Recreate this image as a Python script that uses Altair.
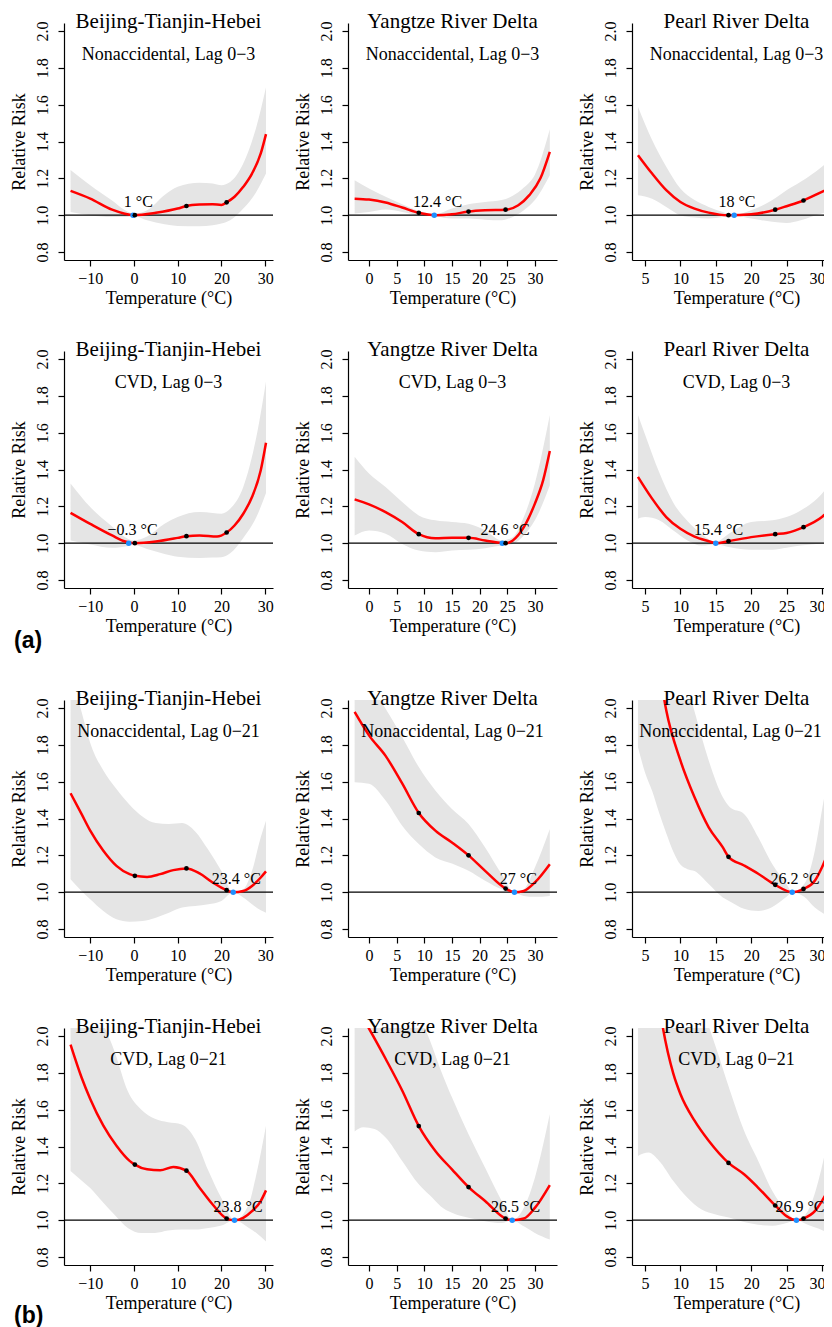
import altair as alt
import pandas as pd

# ---------------- data ----------------
REGIONS = ["Beijing-Tianjin-Hebei", "Yangtze River Delta", "Pearl River Delta"]
OUTCOMES = ["Nonaccidental, Lag 0\u22123", "CVD, Lag 0\u22123",
            "Nonaccidental, Lag 0\u221221", "CVD, Lag 0\u221221"]
PANEL_TAGS = ["", "(a)", "", "(b)"]
X_TICKS = [[-10, 0, 10, 20, 30], [0, 5, 10, 15, 20, 25, 30], [5, 10, 15, 20, 25, 30]]
Y_TICKS = [0.8, 1.0, 1.2, 1.4, 1.6, 1.8, 2.0]
PCT_T = [[0.2, 12.0, 21.2], [9.0, 18.0, 24.7], [16.8, 23.4, 27.4]]
MMT_LABEL = [[1, 12.4, 18], [-0.3, 24.6, 15.4], [23.4, 27, 26.2], [23.8, 26.5, 26.9]]
MMT_POINT_T = [[-0.2, 11.8, 17.6], [-1.2, 24.1, 15.0], [22.7, 26.3, 25.8], [23.0, 25.9, 26.4]]
LABEL_RR = 1.07

# row 1: Nonaccidental, lag 0-3
p11_curve_t = [-14.5, -10, -5, 0, 5, 10, 12, 15, 18, 20, 21.2, 23, 25, 27, 29, 30.2]
p11_curve_rr = [1.132, 1.09, 1.03, 1.0, 1.013, 1.036, 1.05, 1.058, 1.06, 1.056, 1.07, 1.10, 1.154, 1.226, 1.335, 1.44]
p11_band_t = [-14.5, -10, -5, -2, 0, 3, 7, 10, 15, 18, 20, 22, 25, 28, 30.2]
p11_band_hi = [1.245, 1.163, 1.08, 1.027, 1.009, 1.027, 1.11, 1.154, 1.176, 1.172, 1.163, 1.18, 1.28, 1.48, 1.694]
p11_band_lo = [1.018, 1.0, 0.99, 0.99, 0.995, 0.973, 0.951, 0.942, 0.94, 0.945, 0.955, 0.973, 1.036, 1.127, 1.226]
p11_pct_rr = [1.0, 1.05, 1.07]

p12_curve_t = [-2.6, 0, 3, 6, 9, 12, 15, 18, 21, 24.7, 27, 29, 31, 32.7]
p12_curve_rr = [1.09, 1.085, 1.069, 1.042, 1.013, 1.0, 1.005, 1.02, 1.027, 1.03, 1.054, 1.109, 1.2, 1.344]
p12_band_t = [-2.6, 0, 3, 6, 9, 12, 15, 18, 21, 24, 26, 28, 30, 32.7]
p12_band_hi = [1.19, 1.145, 1.1, 1.06, 1.024, 1.005, 1.036, 1.06, 1.072, 1.082, 1.105, 1.15, 1.22, 1.466]
p12_band_lo = [1.009, 1.018, 1.031, 1.018, 1.0, 0.995, 0.982, 0.982, 0.976, 0.973, 0.991, 1.027, 1.082, 1.217]
p12_pct_rr = [1.013, 1.02, 1.03]

p13_curve_t = [4, 6, 8, 10, 12, 14, 16.8, 20, 23.4, 25, 27.4, 30, 32.7]
p13_curve_rr = [1.326, 1.226, 1.136, 1.072, 1.036, 1.014, 1.0, 1.005, 1.03, 1.049, 1.08, 1.127, 1.175]
p13_band_t = [4, 6, 8, 10, 12, 14, 16, 17.6, 20, 23, 25, 27, 30, 32.7]
p13_band_hi = [1.589, 1.408, 1.263, 1.145, 1.082, 1.045, 1.018, 1.003, 1.027, 1.082, 1.136, 1.181, 1.263, 1.36]
p13_band_lo = [1.109, 1.09, 1.045, 1.0, 0.987, 0.982, 0.99, 0.997, 0.982, 0.964, 0.958, 0.973, 1.009, 1.03]
p13_pct_rr = [1.0, 1.03, 1.08]

# row 2: CVD, lag 0-3
p21_curve_t = [-14.5, -10, -5, -2, 0.2, 5, 10, 12, 15, 19, 21.2, 23, 25, 27, 29, 30.2]
p21_curve_rr = [1.165, 1.105, 1.042, 1.009, 1.0, 1.009, 1.029, 1.038, 1.042, 1.036, 1.058, 1.096, 1.16, 1.251, 1.396, 1.545]
p21_band_t = [-14.5, -10, -5, -2, 0, 3, 7, 10, 15, 18, 20, 22, 25, 28, 30.2]
p21_band_hi = [1.324, 1.196, 1.091, 1.033, 1.015, 1.036, 1.105, 1.142, 1.169, 1.164, 1.16, 1.187, 1.305, 1.578, 1.878]
p21_band_lo = [1.015, 0.993, 0.975, 0.982, 0.991, 0.969, 0.942, 0.927, 0.92, 0.922, 0.924, 0.945, 1.028, 1.142, 1.273]
p21_pct_rr = [1.0, 1.038, 1.058]

p22_curve_t = [-2.6, 0, 3, 6, 9, 12, 15, 18, 21, 24.7, 26, 28, 30, 31.5, 32.7]
p22_curve_rr = [1.238, 1.211, 1.169, 1.115, 1.049, 1.027, 1.029, 1.029, 1.015, 1.0, 1.015, 1.087, 1.215, 1.342, 1.5]
p22_band_t = [-2.6, 0, 3, 6, 9, 12, 15, 18, 21, 24, 26, 28, 30, 32.7]
p22_band_hi = [1.469, 1.378, 1.305, 1.224, 1.151, 1.124, 1.115, 1.105, 1.069, 1.015, 1.033, 1.142, 1.324, 1.696]
p22_band_lo = [1.042, 1.069, 1.051, 0.996, 0.96, 0.951, 0.96, 0.964, 0.973, 0.987, 0.996, 1.042, 1.124, 1.315]
p22_pct_rr = [1.049, 1.029, 1.0]

p23_curve_t = [4, 6, 8, 10, 12, 14, 15, 16.8, 20, 23.4, 25, 27.4, 30, 32.7]
p23_curve_rr = [1.36, 1.242, 1.142, 1.078, 1.036, 1.011, 1.0, 1.011, 1.033, 1.049, 1.055, 1.087, 1.142, 1.25]
p23_band_t = [4, 5, 7, 9, 11, 13, 15, 17, 20, 23, 25, 27, 30, 32.7]
p23_band_hi = [1.696, 1.59, 1.385, 1.22, 1.12, 1.05, 1.008, 1.055, 1.115, 1.124, 1.142, 1.178, 1.269, 1.42]
p23_band_lo = [1.133, 1.142, 1.124, 1.069, 1.015, 0.987, 0.993, 0.978, 0.964, 0.964, 0.975, 0.987, 1.0, 1.025]
p23_pct_rr = [1.011, 1.049, 1.087]

# row 3: Nonaccidental, lag 0-21
p31_curve_t = [-14.5, -12, -10, -7, -4, -1, 0.2, 3, 6, 9, 12, 15, 18, 21.2, 22.7, 25, 27, 29, 30.2]
p31_curve_rr = [1.537, 1.425, 1.334, 1.225, 1.143, 1.098, 1.089, 1.083, 1.098, 1.12, 1.129, 1.102, 1.053, 1.011, 1.0, 1.007, 1.034, 1.08, 1.113]
p31_band_t = [-14.5, -12, -10, -7, -4, -1, 2, 5, 8, 11, 14, 17, 20, 22.7, 25, 27, 29, 30.2]
p31_band_hi = [2.2, 1.98, 1.81, 1.66, 1.56, 1.475, 1.41, 1.375, 1.37, 1.375, 1.33, 1.23, 1.115, 1.0, 1.016, 1.116, 1.298, 1.388]
p31_band_lo = [1.071, 1.007, 0.962, 0.898, 0.853, 0.84, 0.844, 0.862, 0.889, 0.917, 0.925, 0.935, 0.953, 1.0, 0.971, 0.935, 0.902, 0.889]
p31_pct_rr = [1.089, 1.129, 1.011]

p32_curve_t = [-2.6, 0, 3, 6, 9, 12, 15, 18, 21, 24.7, 26.3, 28, 30, 32.7]
p32_curve_rr = [1.978, 1.851, 1.74, 1.59, 1.43, 1.334, 1.27, 1.2, 1.116, 1.02, 1.0, 1.007, 1.053, 1.152]
p32_band_t = [-2.6, 0, 3, 6, 9, 12, 15, 18, 21, 24, 26.3, 28, 30, 32.7]
p32_band_hi = [2.15, 2.12, 1.996, 1.842, 1.679, 1.552, 1.452, 1.37, 1.243, 1.098, 1.0, 1.016, 1.134, 1.343]
p32_band_lo = [1.597, 1.588, 1.497, 1.361, 1.261, 1.189, 1.156, 1.116, 1.062, 1.016, 1.0, 0.98, 0.975, 0.98]
p32_pct_rr = [1.43, 1.2, 1.02]

p33_curve_t = [6, 8, 10, 12, 14, 16, 16.8, 19, 21, 23.4, 25.8, 27.4, 29, 30, 31.5, 32.7]
p33_curve_rr = [2.5, 1.987, 1.715, 1.515, 1.352, 1.243, 1.192, 1.145, 1.1, 1.04, 1.0, 1.018, 1.062, 1.134, 1.28, 1.42]
p33_band_t = [4, 5, 6, 7, 8, 9, 10, 11, 12, 14, 16, 17, 19, 21, 23, 25, 25.8, 27.5, 29, 30, 31.5, 32.7]
p33_band_hi = [2.3, 2.3, 2.3, 2.3, 2.3, 2.28, 2.22, 2.12, 1.98, 1.715, 1.515, 1.461, 1.425, 1.298, 1.152, 1.044, 1.0, 1.044, 1.225, 1.443, 1.788, 2.1]
p33_band_lo = [1.788, 1.65, 1.55, 1.43, 1.32, 1.22, 1.15, 1.125, 1.115, 1.044, 0.971, 0.95, 0.91, 0.898, 0.92, 0.975, 1.0, 0.975, 0.917, 0.89, 0.862, 0.85]
p33_pct_rr = [1.192, 1.04, 1.018]

# row 4: CVD, lag 0-21
p41_curve_t = [-14.5, -12, -10, -7, -4, -1, 0.2, 3, 6, 9, 12, 15, 18, 21.2, 23, 25, 27, 29, 30.2]
p41_curve_rr = [1.953, 1.776, 1.658, 1.513, 1.404, 1.322, 1.302, 1.276, 1.271, 1.289, 1.269, 1.176, 1.085, 1.009, 1.0, 1.013, 1.049, 1.104, 1.162]
p41_band_t = [-14.5, -12, -10, -7, -4.5, -1.4, 1.7, 4.8, 7.8, 10.9, 14, 17, 20, 23, 26.3, 28, 30.2]
p41_band_hi = [2.3, 2.2, 2.15, 2.06, 1.92, 1.70, 1.60, 1.55, 1.531, 1.52, 1.44, 1.27, 1.12, 1.0, 1.09, 1.25, 1.513]
p41_band_lo = [1.267, 1.216, 1.175, 1.095, 1.031, 0.958, 0.931, 0.931, 0.944, 0.949, 0.949, 0.958, 0.971, 1.0, 0.958, 0.93, 0.885]
p41_pct_rr = [1.302, 1.269, 1.009]

p42_curve_t = [-2.6, 0, 3, 6, 9, 12, 15, 18, 21, 24.7, 25.9, 28, 30, 32.7]
p42_curve_rr = [2.18, 2.04, 1.876, 1.704, 1.511, 1.376, 1.276, 1.18, 1.104, 1.009, 1.0, 1.009, 1.067, 1.191]
p42_band_t = [-2.6, -1, 1, 3, 6, 9, 11, 13, 15, 18, 21, 24, 25.9, 28, 30, 32.7]
p42_band_hi = [2.3, 2.3, 2.3, 2.3, 2.25, 2.12, 1.976, 1.813, 1.667, 1.467, 1.285, 1.104, 1.0, 1.067, 1.231, 1.576]
p42_band_lo = [1.482, 1.504, 1.495, 1.449, 1.322, 1.195, 1.135, 1.075, 1.04, 1.013, 0.995, 0.985, 1.0, 0.967, 0.931, 0.895]
p42_pct_rr = [1.511, 1.18, 1.009]

p43_curve_t = [6, 7.5, 9, 10, 12, 14, 16.8, 19, 21, 23.4, 25, 26.4, 27.4, 29, 30, 31.5, 32.7]
p43_curve_rr = [2.45, 2.05, 1.795, 1.685, 1.54, 1.431, 1.311, 1.249, 1.176, 1.08, 1.022, 1.0, 1.009, 1.049, 1.104, 1.213, 1.33]
p43_band_t = [4, 5.5, 7, 9, 11, 13, 15, 17, 19, 21, 23, 25, 26.4, 28, 29.5, 31.5, 32.7]
p43_band_hi = [2.3, 2.3, 2.3, 2.3, 2.25, 2.15, 1.94, 1.704, 1.485, 1.322, 1.158, 1.049, 1.0, 1.049, 1.213, 1.576, 1.85]
p43_band_lo = [1.349, 1.367, 1.322, 1.213, 1.122, 1.058, 1.031, 1.013, 0.99, 0.975, 0.97, 0.985, 1.0, 0.976, 0.955, 0.922, 0.91]
p43_pct_rr = [1.311, 1.08, 1.009]

CURVE_T = [[p11_curve_t, p12_curve_t, p13_curve_t], [p21_curve_t, p22_curve_t, p23_curve_t],
           [p31_curve_t, p32_curve_t, p33_curve_t], [p41_curve_t, p42_curve_t, p43_curve_t]]
CURVE_RR = [[p11_curve_rr, p12_curve_rr, p13_curve_rr], [p21_curve_rr, p22_curve_rr, p23_curve_rr],
            [p31_curve_rr, p32_curve_rr, p33_curve_rr], [p41_curve_rr, p42_curve_rr, p43_curve_rr]]
BAND_T = [[p11_band_t, p12_band_t, p13_band_t], [p21_band_t, p22_band_t, p23_band_t],
          [p31_band_t, p32_band_t, p33_band_t], [p41_band_t, p42_band_t, p43_band_t]]
BAND_HI = [[p11_band_hi, p12_band_hi, p13_band_hi], [p21_band_hi, p22_band_hi, p23_band_hi],
           [p31_band_hi, p32_band_hi, p33_band_hi], [p41_band_hi, p42_band_hi, p43_band_hi]]
BAND_LO = [[p11_band_lo, p12_band_lo, p13_band_lo], [p21_band_lo, p22_band_lo, p23_band_lo],
           [p31_band_lo, p32_band_lo, p33_band_lo], [p41_band_lo, p42_band_lo, p43_band_lo]]
PCT_RR = [[p11_pct_rr, p12_pct_rr, p13_pct_rr], [p21_pct_rr, p22_pct_rr, p23_pct_rr],
          [p31_pct_rr, p32_pct_rr, p33_pct_rr], [p41_pct_rr, p42_pct_rr, p43_pct_rr]]

# ---------------- layout / style ----------------
W, H = 209, 237
X_DOMAINS = [[-16.0, 31.8], [-3.8, 34.0], [3.16, 32.7]]
Y_DOMAIN = [0.757, 2.043]
SERIF = "Liberation Serif"
BAND_COLOR = "#E5E5E5"
RED = "#FF0000"
BLUE = "#1E90FF"
TOP_PAD = 15
BOTTOM_PAD = [65, 86, 65, 60]
TAG_Y = [0, H + 53, 0, H + 51]
# right-most column sits against the page edge: nudge its longest texts inward
SUB_SHIFT = [[0, 0, 0], [0, 0, 0], [0, 0, -6], [0, 0, 0]]
LAST_LABEL_SHIFT = [0, 0, -5]


def fmt_mmt(v):
    return (f"{v:g} \u00b0C").replace("-", "\u2212")


def panel(r, c):
    xs = alt.Scale(domain=X_DOMAINS[c], nice=False, zero=False)
    ys = alt.Scale(domain=Y_DOMAIN, nice=False, zero=False)
    x_kw = dict(values=X_TICKS[c], title="Temperature (\u00b0C)", labelPadding=4,
                titlePadding=3, labelOverlap=False, labelFlush=False, grid=False)
    if LAST_LABEL_SHIFT[c]:
        x_kw["labelOffset"] = {"condition": {"test": "datum.value >= 30",
                                             "value": LAST_LABEL_SHIFT[c]}, "value": 0}
    xaxis = alt.Axis(**x_kw)
    yaxis = alt.Axis(values=Y_TICKS, format=".1f", title="Relative Risk", labelAngle=270,
                     labelAlign="center", labelBaseline="bottom", labelPadding=8,
                     titlePadding=6, labelOverlap=False, labelFlush=False, grid=False)

    def X(field):
        return alt.X(field, type="quantitative", scale=xs, axis=xaxis)

    def Y(field):
        return alt.Y(field, type="quantitative", scale=ys, axis=yaxis)

    band_df = pd.DataFrame({"t": BAND_T[r][c], "lo": BAND_LO[r][c], "hi": BAND_HI[r][c]})
    curve_df = pd.DataFrame({"t": CURVE_T[r][c], "rr": CURVE_RR[r][c]})
    pct_df = pd.DataFrame({"t": PCT_T[c], "rr": PCT_RR[r][c]})
    mmt_df = pd.DataFrame({"t": [MMT_POINT_T[r][c]], "rr": [1.0]})
    lab_df = pd.DataFrame({"t": [MMT_LABEL[r][c]], "rr": [LABEL_RR],
                           "label": [fmt_mmt(MMT_LABEL[r][c])]})
    ref_df = pd.DataFrame({"rr": [1.0]})

    band = alt.Chart(band_df).mark_area(color=BAND_COLOR, interpolate="monotone", clip=True).encode(
        x=X("t"), y=Y("lo"), y2="hi:Q")
    ref = alt.Chart(ref_df).mark_rule(color="black", strokeWidth=1.2).encode(y=Y("rr"))
    line = alt.Chart(curve_df).mark_line(color=RED, strokeWidth=2.5, interpolate="monotone",
                                         clip=True).encode(x=X("t"), y=Y("rr"))
    blue = alt.Chart(mmt_df).mark_point(filled=True, color=BLUE, size=30, opacity=1).encode(
        x=X("t"), y=Y("rr"))
    pts = alt.Chart(pct_df).mark_point(filled=True, color="black", size=22, opacity=1).encode(
        x=X("t"), y=Y("rr"))
    lab = alt.Chart(lab_df).mark_text(font=SERIF, fontSize=16, color="black",
                                      baseline="middle").encode(
        x=X("t"), y=Y("rr"), text="label:N")
    title = alt.Chart(pd.DataFrame({"s": [REGIONS[c]]})).mark_text(
        font=SERIF, fontSize=21, color="black", baseline="alphabetic").encode(
        x=alt.value(W / 2), y=alt.value(5), text="s:N")
    sub = alt.Chart(pd.DataFrame({"s": [OUTCOMES[r]]})).mark_text(
        font=SERIF, fontSize=18, color="black", baseline="middle").encode(
        x=alt.value(W / 2 + SUB_SHIFT[r][c]), y=alt.value(32), text="s:N")

    layers = [band, ref, line, blue, pts, lab, title, sub]
    if c == 0:
        spacer_df = pd.DataFrame({"s": [0]})
        top_sp = alt.Chart(spacer_df).mark_rule(strokeOpacity=0).encode(
            x=alt.value(0), x2=alt.value(1), y=alt.value(-TOP_PAD), y2=alt.value(-TOP_PAD))
        bot_sp = alt.Chart(spacer_df).mark_rule(strokeOpacity=0).encode(
            x=alt.value(0), x2=alt.value(1), y=alt.value(H + BOTTOM_PAD[r]),
            y2=alt.value(H + BOTTOM_PAD[r]))
        layers += [top_sp, bot_sp]
        if PANEL_TAGS[r]:
            tag = alt.Chart(pd.DataFrame({"s": [PANEL_TAGS[r]]})).mark_text(
                font="Liberation Sans", fontSize=23, fontWeight="bold", color="black",
                align="left", baseline="middle").encode(
                x=alt.value(-50), y=alt.value(TAG_Y[r]), text="s:N")
            layers.append(tag)
    return alt.layer(*layers).properties(width=W, height=H)


rows = [alt.hconcat(*[panel(r, c) for c in range(3)], spacing=75, bounds="flush")
        for r in range(4)]
# negative right padding crops the right-most panels at the page edge, as in the original
chart = alt.vconcat(*rows, spacing=11).properties(
    padding={"left": 2, "top": 0, "right": -18, "bottom": 0},
    background="white",
).configure_view(strokeWidth=0, strokeOpacity=0).configure_axis(
    grid=False, labelFont=SERIF, labelFontSize=16, titleFont=SERIF, titleFontSize=18,
    titleFontWeight="normal", labelColor="black", titleColor="black",
    domainColor="black", tickColor="black", tickSize=6, domainWidth=1.2, tickWidth=1.2,
    labelOverlap=False, labelFlush=False,
)

chart.save("out.html", embed_options={"renderer": "svg", "actions": False})
